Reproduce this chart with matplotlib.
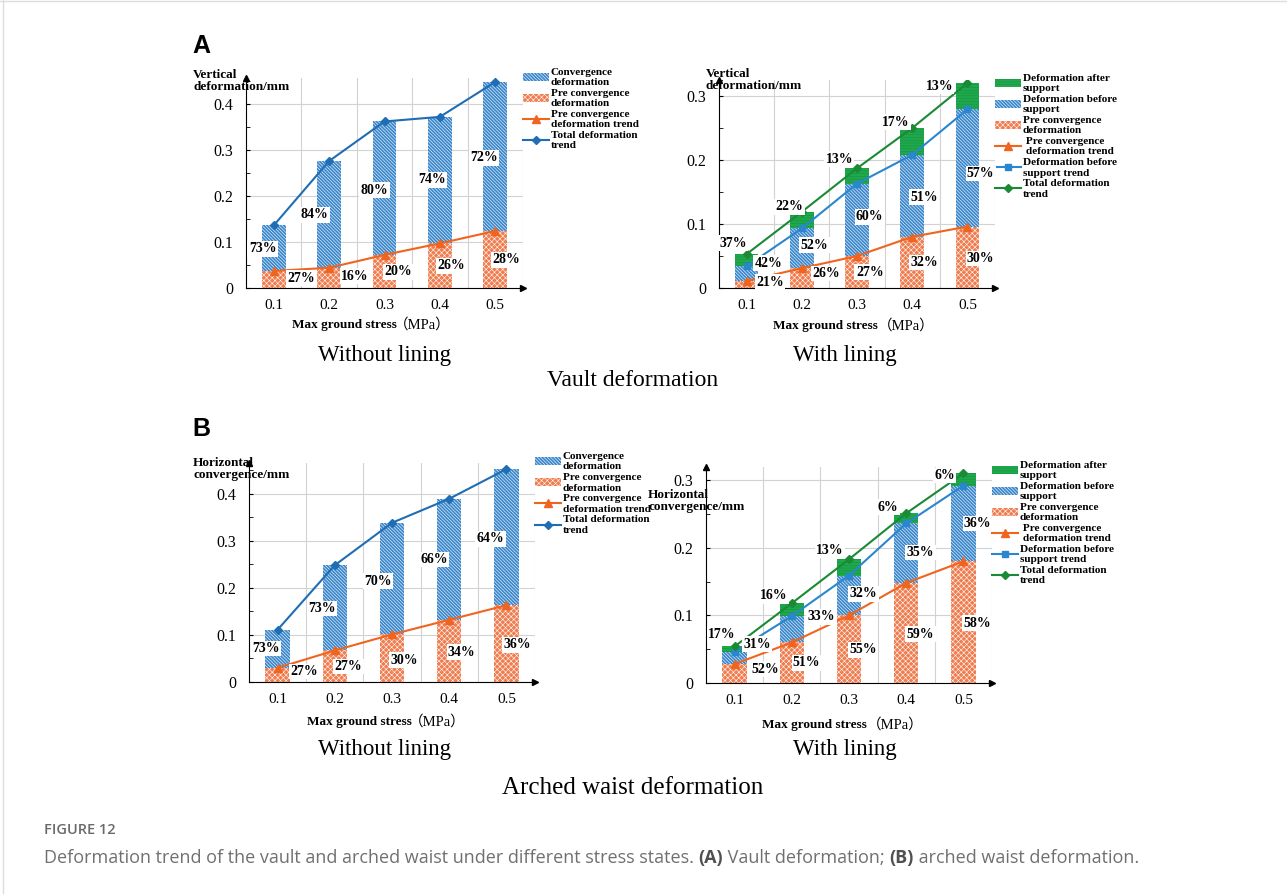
import matplotlib
matplotlib.use('Agg')
import matplotlib.pyplot as plt
import matplotlib.patches as mpatches
from matplotlib.lines import Line2D
from matplotlib.ticker import MultipleLocator, FuncFormatter
import numpy as np

W, H = 1287, 894

stress = ['0.1', '0.2', '0.3', '0.4', '0.5']

# vault, without lining (mm)
vault_total_bare = [0.136, 0.276, 0.362, 0.372, 0.448]
vault_pre_bare = [0.037, 0.044, 0.072, 0.097, 0.124]
vault_conv_pct_bare = ['73%', '84%', '80%', '74%', '72%']
vault_pre_pct_bare = ['27%', '16%', '20%', '26%', '28%']

# vault, with lining (mm)
vault_total_lined = [0.053, 0.119, 0.187, 0.250, 0.320]
vault_before_lined = [0.034, 0.093, 0.163, 0.208, 0.279]
vault_pre_lined = [0.011, 0.031, 0.050, 0.080, 0.096]
vault_after_pct_lined = ['37%', '22%', '13%', '17%', '13%']
vault_before_pct_lined = ['42%', '52%', '60%', '51%', '57%']
vault_pre_pct_lined = ['21%', '26%', '27%', '32%', '30%']

# arched waist, without lining (mm)
waist_total_bare = [0.111, 0.248, 0.338, 0.389, 0.452]
waist_pre_bare = [0.030, 0.067, 0.101, 0.132, 0.163]
waist_conv_pct_bare = ['73%', '73%', '70%', '66%', '64%']
waist_pre_pct_bare = ['27%', '27%', '30%', '34%', '36%']

# arched waist, with lining (mm)
waist_total_lined = [0.054, 0.118, 0.183, 0.251, 0.310]
waist_before_lined = [0.046, 0.099, 0.159, 0.236, 0.292]
waist_pre_lined = [0.028, 0.060, 0.100, 0.148, 0.180]
waist_after_pct_lined = ['17%', '16%', '13%', '6%', '6%']
waist_before_pct_lined = ['31%', '33%', '32%', '35%', '36%']
waist_pre_pct_lined = ['52%', '51%', '55%', '59%', '58%']

# where the percentage boxes sit (x in category units, y in mm)
vault_bare_conv_pos = [(0.80, 0.085), (1.74, 0.159), (2.82, 0.213), (3.86, 0.235), (4.80, 0.283)]
vault_bare_pre_pos = [(1.49, 0.021), (2.47, 0.026), (3.24, 0.035), (4.20, 0.048), (5.20, 0.061)]
vault_lined_after_pos = [(0.76, 0.070), (1.78, 0.127), (2.68, 0.201), (3.70, 0.259), (4.49, 0.315)]
vault_lined_before_pos = [(1.39, 0.039), (2.23, 0.067), (3.23, 0.111), (4.22, 0.142), (5.24, 0.179)]
vault_lined_pre_pos = [(1.42, 0.009), (2.44, 0.0225), (3.23, 0.025), (4.22, 0.040), (5.24, 0.046)]
waist_bare_conv_pos = [(0.80, 0.071), (1.78, 0.156), (2.76, 0.214), (3.73, 0.260), (4.72, 0.304)]
waist_bare_pre_pos = [(1.47, 0.0225), (2.24, 0.033), (3.22, 0.046), (4.22, 0.063), (5.19, 0.079)]
waist_lined_after_pos = [(0.78, 0.072), (1.68, 0.129), (2.67, 0.196), (3.68, 0.260), (4.67, 0.307)]
waist_lined_before_pos = [(1.39, 0.0575), (2.52, 0.098), (3.25, 0.132), (4.25, 0.193), (5.25, 0.236)]
waist_lined_pre_pos = [(1.53, 0.0206), (2.26, 0.030), (3.25, 0.049), (4.25, 0.072), (5.25, 0.0885)]

SERIF = 'Liberation Serif'
BLUE_BAR = '#3a88cb'
ORANGE_BAR = '#ef7d4f'
GREEN_BAR = '#1fa84c'
BLUE_LINE = '#1f6db5'
BEFORE_LINE = '#2a87cf'
ORANGE_LINE = '#f0641e'
GREEN_LINE = '#1a8a35'
GRID = '#d2d2d2'
BLUE_HATCH = '\\' * 10
ORANGE_HATCH = 'x' * 6
GREEN_HATCH = '-' * 6

plt.rcParams['hatch.linewidth'] = 0.4
plt.rcParams['font.family'] = SERIF

x = np.arange(1, 6)
BAR_W = 0.43


def fig_xy(px, py):
    return px / W, 1 - py / H


def make_axes(fig, rect_px, ymax):
    left, top, right, bottom = rect_px
    ax = fig.add_axes([left / W, 1 - bottom / H, (right - left) / W, (bottom - top) / H])
    ax.set_xlim(0.5, 5.5)
    ax.set_ylim(0, ymax)
    for side in ('top', 'right'):
        ax.spines[side].set_visible(False)
    ax.set_xticks(x)
    ax.set_xticklabels(stress)
    ax.tick_params(axis='x', length=0, pad=8, labelsize=11)
    ax.yaxis.set_major_locator(MultipleLocator(0.1))
    ax.yaxis.set_minor_locator(MultipleLocator(0.05))
    ax.yaxis.set_major_formatter(FuncFormatter(lambda v, p: '0' if abs(v) < 1e-9 else f'{v:.1f}'))
    ax.tick_params(axis='y', which='both', direction='in', length=3, pad=9, labelsize=11.5)
    ax.grid(axis='y', which='major', color=GRID, lw=0.8)
    for xv in (1.5, 2.5, 3.5, 4.5, 5.5):
        ax.axvline(xv, color=GRID, lw=0.8, zorder=0)
    ax.set_axisbelow(True)
    # arrow heads on both axes
    ax.plot(0, 1, marker='^', color='k', ms=4, transform=ax.transAxes, clip_on=False)
    ax.plot(1, 0, marker='>', color='k', ms=4, transform=ax.transAxes, clip_on=False)
    return ax


def pct_labels(ax, texts, positions):
    for t, (lx, ly) in zip(texts, positions):
        ax.text(lx, ly, t, ha='center', va='center', fontsize=10, fontweight='bold',
                zorder=6, bbox=dict(boxstyle='square,pad=0.1', fc='white', ec='none'))


def side_legend(ax, handles, labels, top):
    leg = ax.legend(handles, labels, loc='upper left', bbox_to_anchor=(1.0, top), frameon=False,
                    prop={'family': SERIF, 'weight': 'bold', 'size': 8.1},
                    handlelength=2.3, handleheight=0.7, handletextpad=0.15,
                    labelspacing=0.15, borderpad=0, borderaxespad=0)
    for t in leg.get_texts():
        t.set_linespacing(1.2)


def draw_bare(ax, total, pre, conv_pct, pre_pct, conv_pos, pre_pos):
    total = np.array(total)
    pre = np.array(pre)
    ax.bar(x, pre, BAR_W, color=ORANGE_BAR, edgecolor='white', hatch=ORANGE_HATCH, lw=0, zorder=2)
    ax.bar(x, total - pre, BAR_W, bottom=pre, color=BLUE_BAR, edgecolor='white',
           hatch=BLUE_HATCH, lw=0, zorder=2)
    ax.plot(x, pre, color=ORANGE_LINE, marker='^', ms=6, lw=1.5, zorder=4)
    ax.plot(x, total, color=BLUE_LINE, marker='D', ms=4.5, lw=1.5, zorder=4)
    pct_labels(ax, conv_pct, conv_pos)
    pct_labels(ax, pre_pct, pre_pos)

    handles = [
        mpatches.Patch(facecolor=BLUE_BAR, edgecolor='white', hatch=BLUE_HATCH, lw=0),
        mpatches.Patch(facecolor=ORANGE_BAR, edgecolor='white', hatch=ORANGE_HATCH, lw=0),
        Line2D([], [], color=ORANGE_LINE, marker='^', ms=6, lw=1.5),
        Line2D([], [], color=BLUE_LINE, marker='D', ms=4.5, lw=1.5),
    ]
    labels = ['Convergence\ndeformation', 'Pre convergence\ndeformation',
              'Pre convergence\ndeformation trend', 'Total deformation\ntrend']
    side_legend(ax, handles, labels, 1.05)


def draw_lined(ax, total, before, pre, after_pct, before_pct, pre_pct,
               after_pos, before_pos, pre_pos):
    total = np.array(total)
    before = np.array(before)
    pre = np.array(pre)
    ax.bar(x, pre, BAR_W, color=ORANGE_BAR, edgecolor='white', hatch=ORANGE_HATCH, lw=0, zorder=2)
    ax.bar(x, before - pre, BAR_W, bottom=pre, color=BLUE_BAR, edgecolor='white',
           hatch=BLUE_HATCH, lw=0, zorder=2)
    ax.bar(x, total - before, BAR_W, bottom=before, color=GREEN_BAR, edgecolor='#159440',
           hatch=GREEN_HATCH, lw=0, zorder=2)
    ax.plot(x, pre, color=ORANGE_LINE, marker='^', ms=6, lw=1.5, zorder=4)
    ax.plot(x, before, color=BEFORE_LINE, marker='s', ms=5, lw=1.5, zorder=4)
    ax.plot(x, total, color=GREEN_LINE, marker='D', ms=4.5, lw=1.5, zorder=4)
    pct_labels(ax, after_pct, after_pos)
    pct_labels(ax, before_pct, before_pos)
    pct_labels(ax, pre_pct, pre_pos)

    handles = [
        mpatches.Patch(facecolor=GREEN_BAR, edgecolor='#159440', hatch=GREEN_HATCH, lw=0),
        mpatches.Patch(facecolor=BLUE_BAR, edgecolor='white', hatch=BLUE_HATCH, lw=0),
        mpatches.Patch(facecolor=ORANGE_BAR, edgecolor='white', hatch=ORANGE_HATCH, lw=0),
        Line2D([], [], color=ORANGE_LINE, marker='^', ms=6, lw=1.5),
        Line2D([], [], color=BEFORE_LINE, marker='s', ms=5, lw=1.5),
        Line2D([], [], color=GREEN_LINE, marker='D', ms=4.5, lw=1.5),
    ]
    labels = ['Deformation after\nsupport', 'Deformation before\nsupport',
              'Pre convergence\ndeformation', ' Pre convergence\n deformation trend',
              'Deformation before\nsupport trend', 'Total deformation\ntrend']
    side_legend(ax, handles, labels, 1.03)


def axis_title(fig, px, py, lines):
    fig.text(*fig_xy(px, py), lines, ha='left', va='top', fontsize=9.5,
             fontweight='bold', linespacing=0.95)


def stress_label(fig, renderer, px, py, gap=''):
    # bold name followed by the unit in regular weight
    t = fig.text(*fig_xy(px, py), 'Max ground stress' + gap, ha='left', va='center',
                 fontsize=9.5, fontweight='bold')
    w = t.get_window_extent(renderer).width
    fig.text(*fig_xy(px + w - 3, py), '（MPa）', ha='left', va='center', fontsize=10.5,
             family=[SERIF, 'Noto Sans CJK SC'])


fig = plt.figure(figsize=(W / 100, H / 100), dpi=100)
renderer = fig.canvas.get_renderer()

# (A) vault deformation
ax1 = make_axes(fig, (246, 78, 523, 288), 0.4565)
draw_bare(ax1, vault_total_bare, vault_pre_bare, vault_conv_pct_bare, vault_pre_pct_bare,
          vault_bare_conv_pos, vault_bare_pre_pos)
ax2 = make_axes(fig, (719, 80, 995, 288), 0.325)
draw_lined(ax2, vault_total_lined, vault_before_lined, vault_pre_lined,
           vault_after_pct_lined, vault_before_pct_lined, vault_pre_pct_lined,
           vault_lined_after_pos, vault_lined_before_pos, vault_lined_pre_pos)

# (B) arched waist deformation
ax3 = make_axes(fig, (249, 463, 535, 682), 0.465)
draw_bare(ax3, waist_total_bare, waist_pre_bare, waist_conv_pct_bare, waist_pre_pct_bare,
          waist_bare_conv_pos, waist_bare_pre_pos)
ax4 = make_axes(fig, (706, 467, 992, 683), 0.3195)
draw_lined(ax4, waist_total_lined, waist_before_lined, waist_pre_lined,
           waist_after_pct_lined, waist_before_pct_lined, waist_pre_pct_lined,
           waist_lined_after_pos, waist_lined_before_pos, waist_lined_pre_pos)

axis_title(fig, 193, 69, 'Vertical\ndeformation/mm')
axis_title(fig, 706, 68, 'Vertical\ndeformation/mm')
axis_title(fig, 193, 457, 'Horizontal\nconvergence/mm')
axis_title(fig, 648, 489, 'Horizontal\nconvergence/mm')

stress_label(fig, renderer, 292, 325)
stress_label(fig, renderer, 773, 326, gap=' ')
stress_label(fig, renderer, 307, 722)
stress_label(fig, renderer, 762, 725, gap=' ')

for px, py, txt, size in [(385, 356, 'Without lining', 16.5), (845, 356, 'With lining', 16.5),
                          (633, 381, 'Vault deformation', 17),
                          (385, 749, 'Without lining', 16.5), (845, 749, 'With lining', 16.5),
                          (633, 788, 'Arched waist deformation', 18)]:
    fig.text(*fig_xy(px, py), txt, ha='center', va='center', fontsize=size)

fig.text(*fig_xy(192, 46), 'A', ha='left', va='center', fontsize=18, fontweight='bold',
         family='Liberation Sans')
fig.text(*fig_xy(192, 429), 'B', ha='left', va='center', fontsize=18, fontweight='bold',
         family='Liberation Sans')

# caption, written piece by piece so (A) and (B) can be bold
fig.text(*fig_xy(44, 830), 'FIGURE 12', ha='left', va='center', fontsize=10.5,
         fontweight='semibold', color='#6a6a6a', family='Open Sans')
cx = 44
for piece, bold in [('Deformation trend of the vault and arched waist under different stress states. ', False),
                    ('(A)', True), (' Vault deformation; ', False), ('(B)', True),
                    (' arched waist deformation.', False)]:
    t = fig.text(*fig_xy(cx, 858), piece, ha='left', va='center', fontsize=12.95,
                 fontweight='bold' if bold else 'normal',
                 color='#505050' if bold else '#707070', family='Open Sans')
    cx += t.get_window_extent(renderer).width

# page border
fig.add_artist(Line2D([0.002, 0.002], [0, 1], color='#dddddd', lw=1, transform=fig.transFigure))
fig.add_artist(Line2D([0, 1], [0.999, 0.999], color='#dddddd', lw=1, transform=fig.transFigure))

fig.savefig('out.png', dpi=100)
